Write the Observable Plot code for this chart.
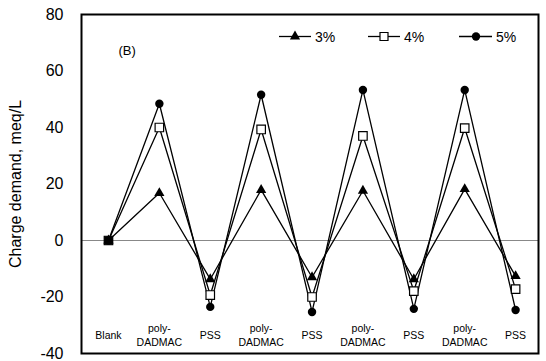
<!DOCTYPE html>
<html><head><meta charset="utf-8">
<script src="https://cdn.jsdelivr.net/npm/d3@7"></script>
<script src="https://cdn.jsdelivr.net/npm/@observablehq/plot@0.6"></script>
<style>
body{margin:0;background:#fff}
#chart{position:relative;width:546px;height:361px}
#chart svg{font-family:Arial,"Liberation Sans",sans-serif}
</style>
</head><body><div id="chart"></div>
<script>
const categories = ["Blank","poly-\nDADMAC","PSS","poly-\nDADMAC","PSS","poly-\nDADMAC","PSS","poly-\nDADMAC","PSS"];
const seriesNames = ["3%","4%","5%"];
const values3 = [0,16.8,-13.7,17.9,-13.0,17.6,-13.7,18.2,-12.6];
const values4 = [0,40.0,-19.3,39.3,-20.0,37.0,-17.9,39.8,-17.2];
const values5 = [0,48.4,-23.5,51.6,-25.3,53.3,-24.2,53.3,-24.6];
const yTicks = [-40,-20,0,20,40,60,80];

const allValues = [values3, values4, values5];
const rows = [];
allValues.forEach((vals, s) => vals.forEach((v, i) => rows.push({i, series: seriesNames[s], value: v})));
const bySeries = name => rows.filter(d => d.series === name);

const plot = Plot.plot({
  width: 546, height: 361,
  marginLeft: 81, marginRight: 8, marginTop: 14, marginBottom: 8,
  style: {fontFamily: "Arial, 'Liberation Sans', sans-serif", fontSize: "15px", color: "black", background: "white"},
  x: {domain: [-0.53, 8.45]},
  y: {domain: [-40, 80]},
  marks: [
    Plot.ruleY([0], {stroke: "#888", strokeWidth: 1}),
    Plot.axisY({ticks: yTicks, tickFormat: d => String(d), tickSize: 0, tickPadding: 18, fontSize: 16, label: "Charge demand, meq/L", labelAnchor: "center", labelArrow: "none", labelOffset: 72}),
    Plot.axisX({ticks: d3.range(categories.length), tickFormat: i => categories[i], tickSize: 0, fontSize: 10.5, lineAnchor: "middle", lineHeight: 1.3, dy: -28, label: null}),
    Plot.line(rows, {x: "i", y: "value", z: "series", stroke: "black", strokeWidth: 1.3}),
    Plot.dot(bySeries("5%"), {x: "i", y: "value", symbol: "circle", r: 4.2, fill: "black", stroke: "none"}),
    Plot.dot(bySeries("3%"), {x: "i", y: "value", symbol: "triangle", r: 3.8, fill: "black", stroke: "none"}),
    Plot.dot(bySeries("4%"), {x: "i", y: "value", symbol: "square", r: 4.8, fill: d => d.i === 0 ? "black" : "white", stroke: "black", strokeWidth: 1.2}),
    Plot.text(["(B)"], {frameAnchor: "top-left", dx: 37, dy: 31, fontSize: 13}),
    Plot.frame({stroke: "black", strokeWidth: 2})
  ]
});
const chart = document.getElementById("chart");
chart.appendChild(plot);

// legend overlay
const legendLayout = [{x0: 279, mid: 295, x1: 311}, {x0: 368, mid: 384, x1: 400}, {x0: 459, mid: 476, x1: 492}];
const legendSymbols = [d3.symbol(d3.symbolTriangle, 45), d3.symbol(d3.symbolSquare, 64), d3.symbol(d3.symbolCircle, 55)];
const legendY = 36.5;
const lg = d3.select(chart).append("svg")
  .attr("width", 546).attr("height", 361)
  .style("position", "absolute").style("left", 0).style("top", 0).style("pointer-events", "none")
  .style("font-family", "Arial, 'Liberation Sans', sans-serif");
seriesNames.forEach((name, k) => {
  const L = legendLayout[k];
  lg.append("line").attr("x1", L.x0).attr("x2", L.x1).attr("y1", legendY).attr("y2", legendY).attr("stroke", "black").attr("stroke-width", 1.3);
  lg.append("path").attr("d", legendSymbols[k]()).attr("transform", `translate(${L.mid},${legendY})`)
    .attr("fill", k === 1 ? "white" : "black").attr("stroke", k === 1 ? "black" : "none").attr("stroke-width", 1.2);
  lg.append("text").attr("x", L.x1 + 4).attr("y", legendY).attr("dy", "0.36em").attr("font-size", 14).text(name);
});
</script>
</body></html>
